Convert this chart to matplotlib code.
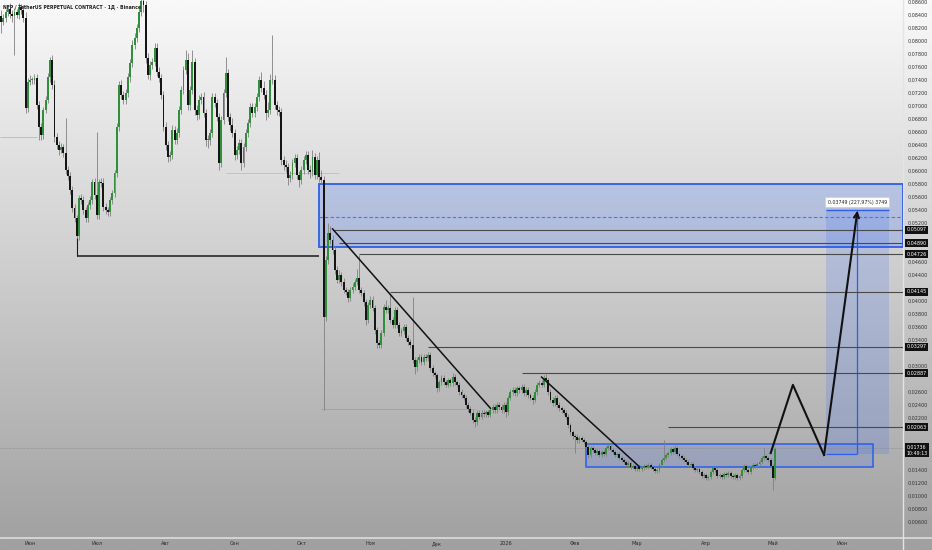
import numpy as np
import pandas as pd
import matplotlib
matplotlib.use("Agg")
import matplotlib.pyplot as plt
import matplotlib.dates as mdates
import matplotlib.transforms as mtransforms
from matplotlib.patches import Rectangle
from matplotlib.colors import LinearSegmentedColormap
from matplotlib.ticker import FuncFormatter

# daily candles, NFP/USDT perpetual
dates = pd.date_range("2025-05-19", periods=349, freq="D")
first_open = 0.0838
closes = [
    0.0830, 0.0835, 0.0845, 0.0850, 0.0842, 0.0838, 0.0845, 0.0840, 0.0852, 0.0848, 0.0836,
    0.0697, 0.0737, 0.0740, 0.0740, 0.0743, 0.0702, 0.0668, 0.0655, 0.0694, 0.0709,
    0.0745, 0.0771, 0.0732, 0.0652, 0.0640, 0.0632, 0.0637, 0.0628, 0.0602, 0.0592,
    0.0571, 0.0543, 0.0528, 0.0500, 0.0558, 0.0555, 0.0540, 0.0528, 0.0548, 0.0555,
    0.0583, 0.0563, 0.0532, 0.0583, 0.0582, 0.0545, 0.0540, 0.0537, 0.0555, 0.0566,
    0.0597, 0.0668, 0.0732, 0.0717, 0.0709, 0.0720, 0.0745, 0.0766, 0.0794, 0.0805,
    0.0820, 0.0845, 0.0862, 0.0855, 0.0774, 0.0748, 0.0763, 0.0768, 0.0789, 0.0752,
    0.0743, 0.0717, 0.0668, 0.0640, 0.0622, 0.0625, 0.0663, 0.0648, 0.0658, 0.0694,
    0.0725, 0.0755, 0.0771, 0.0702, 0.0725, 0.0768, 0.0694, 0.0686, 0.0709, 0.0714,
    0.0689, 0.0648, 0.0648, 0.0658, 0.0714, 0.0705, 0.0683, 0.0612, 0.0678, 0.0720,
    0.0751, 0.0683, 0.0671, 0.0658, 0.0625, 0.0632, 0.0643, 0.0612, 0.0637, 0.0658,
    0.0674, 0.0698, 0.0689, 0.0698, 0.0714, 0.0740, 0.0728, 0.0717, 0.0689, 0.0694,
    0.0740, 0.0740, 0.0702, 0.0694, 0.0691, 0.0617, 0.0609, 0.0606, 0.0589, 0.0594,
    0.0612, 0.0620, 0.0594, 0.0586, 0.0602, 0.0617, 0.0625, 0.0602, 0.0598, 0.0622,
    0.0594, 0.0617, 0.0591, 0.0586, 0.0375, 0.0463, 0.0505, 0.0494, 0.0478, 0.0448,
    0.0432, 0.0440, 0.0429, 0.0417, 0.0414, 0.0405, 0.0417, 0.0422, 0.0429, 0.0435,
    0.0417, 0.0412, 0.0398, 0.0371, 0.0394, 0.0402, 0.0389, 0.0355, 0.0335, 0.0332,
    0.0351, 0.0391, 0.0386, 0.0389, 0.0371, 0.0363, 0.0386, 0.0363, 0.0351, 0.0354,
    0.0360, 0.0343, 0.0337, 0.0332, 0.0309, 0.0298, 0.0309, 0.0314, 0.0306, 0.0314,
    0.0312, 0.0317, 0.0297, 0.0289, 0.0286, 0.0266, 0.0275, 0.0282, 0.0275, 0.0271,
    0.0278, 0.0274, 0.0283, 0.0275, 0.0271, 0.0260, 0.0255, 0.0251, 0.0240, 0.0234,
    0.0228, 0.0217, 0.0214, 0.0228, 0.0222, 0.0228, 0.0226, 0.0229, 0.0225, 0.0232,
    0.0237, 0.0232, 0.0240, 0.0237, 0.0232, 0.0240, 0.0229, 0.0251, 0.0260, 0.0263,
    0.0258, 0.0266, 0.0263, 0.0268, 0.0258, 0.0263, 0.0255, 0.0251, 0.0248, 0.0260,
    0.0271, 0.0274, 0.0271, 0.0282, 0.0278, 0.0260, 0.0248, 0.0243, 0.0251, 0.0240,
    0.0235, 0.0232, 0.0228, 0.0222, 0.0209, 0.0198, 0.0192, 0.0191, 0.0186, 0.0189,
    0.0186, 0.0183, 0.0175, 0.0163, 0.0174, 0.0171, 0.0166, 0.0169, 0.0163, 0.0168,
    0.0165, 0.0174, 0.0177, 0.0171, 0.0168, 0.0163, 0.0165, 0.0158, 0.0155, 0.0152,
    0.0148, 0.0151, 0.0145, 0.0146, 0.0142, 0.0145, 0.0142, 0.0143, 0.0146, 0.0145,
    0.0148, 0.0145, 0.0142, 0.0138, 0.0140, 0.0148, 0.0155, 0.0158, 0.0163, 0.0166,
    0.0172, 0.0168, 0.0174, 0.0165, 0.0162, 0.0158, 0.0155, 0.0152, 0.0148, 0.0149,
    0.0143, 0.0140, 0.0142, 0.0137, 0.0131, 0.0132, 0.0128, 0.0129, 0.0137, 0.0143,
    0.0140, 0.0131, 0.0132, 0.0129, 0.0134, 0.0132, 0.0135, 0.0131, 0.0129, 0.0132,
    0.0128, 0.0131, 0.0140, 0.0146, 0.0140, 0.0137, 0.0145, 0.0148, 0.0146, 0.0149,
    0.0152, 0.0158, 0.0162, 0.0158, 0.0155, 0.0146, 0.0128, 0.0172,
]
# wick lengths above / below the body, in 0.0001 USDT
wick_up = [
    10, 6, 5, 6, 8, 5, 6, 5, 6, 5, 8,
    8, 6, 8, 5, 6, 6, 5, 6, 5, 6,
    6, 4, 8, 8, 6, 6, 6, 5, 54, 6,
    6, 6, 6, 5, 5, 6, 6, 5, 5, 6,
    5, 6, 97, 5, 6, 8, 6, 5, 5, 5,
    5, 6, 6, 8, 6, 6, 6, 6, 8, 8,
    6, 6, 10, 8, 6, 8, 6, 6, 8, 8,
    8, 6, 6, 8, 6, 6, 8, 6, 8, 6,
    6, 6, 15, 10, 6, 18, 6, 8, 8, 6,
    8, 6, 8, 6, 6, 6, 6, 6, 6, 6,
    24, 6, 6, 10, 6, 6, 6, 6, 6, 6,
    6, 6, 6, 6, 6, 6, 12, 10, 8, 12,
    10, 69, 8, 6, 6, 6, 6, 8, 6, 6,
    6, 6, 6, 6, 6, 6, 6, 6, 8, 10,
    6, 6, 12, 10, 6, 6, 15, 10, 8, 6,
    6, 8, 5, 6, 5, 5, 5, 5, 5, 15,
    36, 5, 5, 5, 5, 5, 5, 5, 5, 5,
    5, 5, 10, 5, 23, 5, 5, 5, 5, 5,
    5, 5, 5, 5, 74, 5, 5, 5, 5, 5,
    4, 4, 4, 4, 4, 4, 4, 4, 4, 4,
    4, 4, 6, 4, 4, 4, 4, 4, 4, 4,
    4, 4, 4, 4, 4, 4, 4, 4, 4, 4,
    4, 4, 4, 4, 4, 4, 4, 4, 4, 4,
    4, 4, 4, 4, 4, 4, 4, 4, 4, 4,
    4, 4, 4, 4, 6, 4, 4, 4, 4, 4,
    4, 4, 4, 4, 4, 4, 4, 4, 4, 4,
    3, 3, 3, 3, 3, 3, 3, 3, 3, 3,
    3, 3, 3, 3, 3, 3, 3, 3, 3, 3,
    3, 3, 3, 3, 3, 3, 3, 3, 3, 3,
    3, 3, 3, 3, 3, 3, 3, 28, 3, 3,
    3, 3, 5, 3, 3, 3, 3, 3, 3, 3,
    3, 3, 3, 3, 3, 3, 3, 3, 3, 3,
    3, 3, 3, 3, 3, 3, 3, 3, 3, 3,
    3, 3, 3, 3, 3, 3, 3, 3, 3, 3,
    3, 3, 12, 3, 3, 3, 3, 3,
]
wick_dn = [
    17, 6, 5, 6, 6, 8, 60, 5, 6, 6, 6,
    8, 6, 5, 6, 6, 6, 20, 8, 6, 5,
    5, 8, 6, 8, 6, 8, 5, 6, 6, 6,
    6, 6, 6, 3, 6, 6, 6, 6, 6, 6,
    6, 6, 6, 6, 6, 6, 6, 6, 6, 6,
    6, 6, 6, 6, 6, 6, 6, 8, 6, 6,
    6, 6, 6, 10, 8, 6, 8, 6, 6, 6,
    6, 6, 6, 8, 8, 6, 6, 6, 6, 6,
    6, 6, 6, 8, 8, 6, 8, 8, 6, 6,
    6, 10, 12, 8, 6, 6, 6, 10, 6, 6,
    6, 6, 10, 6, 8, 6, 6, 10, 6, 6,
    6, 6, 6, 6, 6, 6, 6, 6, 10, 6,
    6, 6, 6, 8, 6, 8, 8, 8, 10, 6,
    6, 6, 6, 10, 6, 6, 6, 6, 8, 6,
    6, 6, 8, 6, 143, 6, 6, 6, 6, 6,
    5, 5, 6, 5, 5, 6, 5, 5, 5, 5,
    5, 5, 5, 8, 5, 5, 5, 5, 8, 5,
    5, 5, 5, 5, 5, 5, 5, 5, 5, 5,
    5, 5, 5, 5, 5, 10, 5, 5, 5, 5,
    4, 4, 4, 4, 4, 6, 4, 4, 4, 4,
    4, 4, 4, 4, 4, 4, 4, 4, 4, 4,
    4, 4, 8, 4, 4, 4, 4, 4, 4, 4,
    4, 4, 4, 4, 4, 4, 8, 4, 4, 4,
    4, 4, 4, 4, 4, 4, 4, 4, 6, 4,
    4, 4, 4, 4, 4, 4, 4, 4, 4, 4,
    4, 4, 4, 4, 4, 4, 4, 25, 4, 4,
    3, 3, 3, 5, 3, 3, 3, 3, 3, 3,
    3, 3, 3, 3, 3, 3, 3, 3, 3, 3,
    3, 3, 3, 3, 3, 3, 3, 3, 3, 3,
    3, 3, 3, 3, 3, 3, 3, 3, 3, 3,
    3, 3, 3, 3, 3, 3, 3, 3, 3, 3,
    3, 3, 3, 3, 3, 3, 3, 3, 3, 3,
    3, 3, 3, 3, 3, 3, 3, 3, 3, 3,
    3, 3, 3, 3, 3, 3, 3, 3, 3, 3,
    3, 3, 3, 3, 3, 3, 19, 3,
]

# horizontal levels with price labels
level_prices = [0.05097, 0.04890, 0.04726, 0.04145, 0.03297, 0.02887, 0.02063]
level_starts = ["2025-10-15", "2025-10-18", "2025-10-27", "2025-11-10",
                "2025-11-27", "2026-01-08", "2026-03-15"]
last_price = 0.01736
last_time = "10:49:13"

# trend lines (start, end)
trend_dates = [("2025-10-15", "2025-12-25"), ("2026-01-17", "2026-03-02")]
trend_prices = [(0.0511, 0.0235), (0.0283, 0.0145)]
old_low = 0.0470
old_low_dates = ("2025-06-22", "2025-10-09")

# zones
zone_top, zone_bottom, zone_mid = 0.0580, 0.0483, 0.0530
zone_start = "2025-10-09"
range_top, range_bottom = 0.01800, 0.01450
range_dates = ("2026-02-06", "2026-06-15")

# projected path and price range tool
path_dates = ["2026-04-30", "2026-05-10", "2026-05-24", "2026-06-08"]
path_prices = [0.0166, 0.0271, 0.0163, 0.0539]
measure_dates = ("2026-05-25", "2026-06-08", "2026-06-22")
measure_prices = (0.01645, 0.05394)
measure_text = "0.03749 (227,97%) 3749"

month_ticks = ["2025-06-01", "2025-07-01", "2025-08-01", "2025-09-01", "2025-10-01",
               "2025-11-01", "2025-12-01", "2026-01-01", "2026-02-01", "2026-03-01",
               "2026-04-01", "2026-05-01", "2026-06-01"]
month_labels = ["Июн", "Июл", "Авг", "Сен", "Окт", "Ноя", "Дек", "2026",
                "Фев", "Мар", "Апр", "Май", "Июн"]

title = "NFP / TetherUS PERPETUAL CONTRACT · 1Д · Binance"


def dn(s):
    return mdates.date2num(pd.Timestamp(s))


def fmt(v):
    return f"{v:.5f}".replace(".", ",")


closes = np.array(closes)
opens = np.concatenate([[first_open], closes[:-1]])
highs = np.maximum(opens, closes) + np.array(wick_up) * 1e-4
lows = np.minimum(opens, closes) - np.array(wick_dn) * 1e-4
x = mdates.date2num(dates)

fig = plt.figure(figsize=(9.32, 5.5), dpi=100)

# background gradient
bg = fig.add_axes([0, 0, 1, 1], zorder=-10)
grad = np.linspace(0, 1, 256).reshape(-1, 1)
bg.imshow(grad, cmap=LinearSegmentedColormap.from_list("bg", ["#f9f9f9", "#cdcdcd", "#a0a0a0"]),
          aspect="auto", extent=[0, 1, 0, 1], origin="upper")
bg.axhline(12 / 550, color="#dcdcdc", lw=1.2)
bg.axvline(903 / 932, color="#e4e4e4", lw=1.0)
bg.set_xlim(0, 1)
bg.set_ylim(0, 1)
bg.axis("off")

ax = fig.add_axes([0, 12 / 550, 903 / 932, 538 / 550])
ax.patch.set_alpha(0)
for s in ax.spines.values():
    s.set_visible(False)

x_left = dn("2025-05-18 12:00")
x_right = dn("2026-06-28 12:00")
ax.set_xlim(x_left, x_right)
ax.set_ylim(0.003538, 0.08631)

# zones
ax.add_patch(Rectangle((dn(zone_start), zone_bottom), x_right - dn(zone_start), zone_top - zone_bottom,
                       facecolor="#2962ff", alpha=0.2, edgecolor="none", zorder=1))
ax.add_patch(Rectangle((dn(zone_start), zone_bottom), x_right - dn(zone_start), zone_top - zone_bottom,
                       facecolor="none", edgecolor="#2c5ee8", lw=1.3, zorder=2))
ax.hlines(zone_mid, dn(zone_start), x_right, color="#4a74e8", lw=0.8, linestyles=(0, (3, 2)), zorder=2)

ax.add_patch(Rectangle((dn(range_dates[0]), range_bottom), dn(range_dates[1]) - dn(range_dates[0]),
                       range_top - range_bottom, facecolor="#2962ff", alpha=0.15, edgecolor="none", zorder=1))
ax.add_patch(Rectangle((dn(range_dates[0]), range_bottom), dn(range_dates[1]) - dn(range_dates[0]),
                       range_top - range_bottom, facecolor="none", edgecolor="#2c5ee8", lw=1.1, zorder=2))

m0, mc, m1 = [dn(d) for d in measure_dates]
ax.add_patch(Rectangle((m0, measure_prices[0]), m1 - m0, measure_prices[1] - measure_prices[0],
                       facecolor="#2962ff", alpha=0.17, edgecolor="none", zorder=1))
ax.hlines(measure_prices[1], m0, m1, color="#2c5ee8", lw=1.0, zorder=2)
ax.hlines(measure_prices[0], m0, mc, color="#2c5ee8", lw=0.9, zorder=2)
ax.vlines(mc, measure_prices[0], measure_prices[1], color="#2c5ee8", lw=0.9, zorder=2)
ax.text(mc, 0.0552, measure_text, fontsize=3.4, color="#222", ha="center", va="center", zorder=9,
        bbox=dict(boxstyle="square,pad=0.5", fc="white", ec="#c8c8c8", lw=0.4))

# faint reference lines
ax.hlines(0.0652, x_left, dn("2025-06-04"), color="#e3a8a8", lw=0.6, zorder=1)
ax.hlines(0.0597, dn("2025-08-28"), dn("2025-10-18"), color="#e0b0b0", lw=0.6, zorder=1)
ax.hlines(0.0234, dn("2025-10-10"), dn("2025-12-18"), color="#9a9a9a", lw=0.5, zorder=1)
ax.hlines(last_price, x_left, x_right, color="#8a8a8a", lw=0.5, linestyles=(0, (1, 1)), zorder=1)

# candles
up = closes >= opens
ax.vlines(x, lows, highs, color="#808080", lw=0.6, zorder=3)
body = np.maximum(np.abs(closes - opens), 0.00008)
ax.bar(x, body, bottom=np.minimum(opens, closes), width=0.85,
       color=np.where(up, "#2f8f3a", "#151515"), linewidth=0, zorder=4)

# levels
for p, s in zip(level_prices, level_starts):
    ax.hlines(p, dn(s), x_right, color="#4a4a4a", lw=0.8, zorder=5)
ax.hlines(old_low, dn(old_low_dates[0]), dn(old_low_dates[1]), color="#1a1a1a", lw=1.1, zorder=5)
ax.vlines(dn(old_low_dates[0]), old_low, 0.0497, color="#1a1a1a", lw=0.8, zorder=5)

for (d0, d1), (p0, p1) in zip(trend_dates, trend_prices):
    ax.plot([dn(d0), dn(d1)], [p0, p1], color="#111", lw=1.1, zorder=6)

px = [dn(d) for d in path_dates]
ax.plot(px[:-1], path_prices[:-1], color="#111", lw=1.5, zorder=7)
ax.annotate("", xy=(px[-1], path_prices[-1]), xytext=(px[-2], path_prices[-2]),
            arrowprops=dict(arrowstyle="->", color="#111", lw=1.5, mutation_scale=9,
                            shrinkA=0, shrinkB=0), zorder=7)

# axes ticks
ax.set_xticks([dn(d) for d in month_ticks])
ax.set_xticklabels(month_labels)
ax.tick_params(axis="x", length=0, pad=2.5, labelsize=3.6, labelcolor="#2a2a2a")

# price ticks hidden behind the label boxes are left out
yticks = []
for t in np.arange(0.006, 0.0861, 0.002):
    near_level = min(abs(t - p) for p in level_prices) < 0.001
    near_last = abs(t - (last_price - 0.0003)) < 0.0016
    if not (near_level or near_last):
        yticks.append(t)
ax.yaxis.tick_right()
ax.set_yticks(yticks)
ax.yaxis.set_major_formatter(FuncFormatter(lambda v, p: fmt(v)))
ax.tick_params(axis="y", length=0, pad=3, labelsize=3.5, labelcolor="#333")

trans = mtransforms.blended_transform_factory(ax.transAxes, ax.transData)
for p in level_prices:
    ax.text(1.004, p, fmt(p), transform=trans, fontsize=3.5, color="white",
            ha="left", va="center", clip_on=False, zorder=10,
            bbox=dict(boxstyle="square,pad=0.3", fc="#111", ec="none"))
ax.text(1.004, last_price - 0.0003, fmt(last_price) + "\n" + last_time,
        transform=trans, fontsize=3.4, color="white", ha="left", va="center", clip_on=False,
        zorder=10, linespacing=1.3, bbox=dict(boxstyle="square,pad=0.3", fc="#111", ec="none"))

fig.text(3 / 932, 1 - 7 / 550, title, fontsize=3.3, fontweight="bold", color="#222", va="center")

fig.savefig("out.png", dpi=100)
